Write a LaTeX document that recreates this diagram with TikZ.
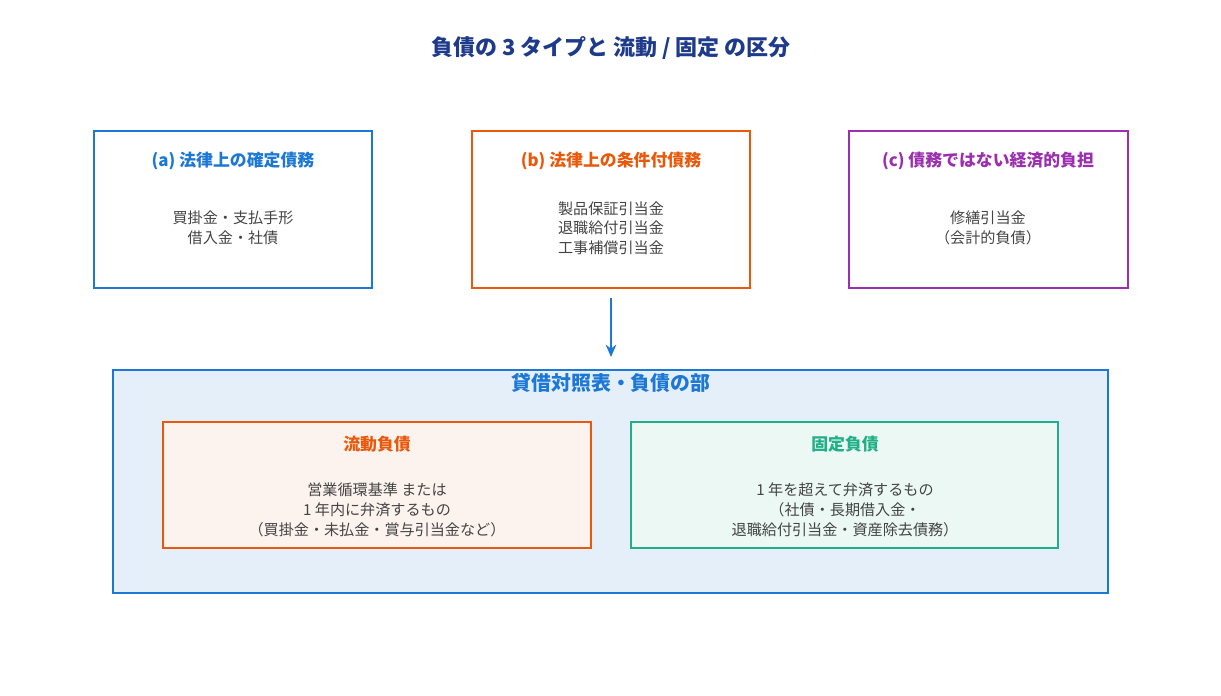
\documentclass[tikz,border=0pt]{standalone}
\usepackage{fontspec}
\setmainfont{Noto Sans CJK JP}
\usetikzlibrary{arrows.meta}
\definecolor{cblue}{HTML}{1C78D4}
\definecolor{corange}{HTML}{E8590C}
\definecolor{cpurple}{HTML}{9C2FB0}
\definecolor{cgreen}{HTML}{20B088}
\definecolor{ctitle}{HTML}{1E3A8A}
\definecolor{ctext}{HTML}{444444}
\begin{document}
\begin{tikzpicture}[x=0.02cm,y=-0.02cm,
 box/.style={draw,line width=1.6pt},
 inbox/.style={draw,line width=1.3pt},
 head/.style={font=\fontsize{9.6}{11}\selectfont\bfseries},
 body/.style={font=\fontsize{8.6}{11.2}\selectfont,text=ctext,align=center}]
\useasboundingbox (0,0) rectangle (1221,696);
\node[font=\fontsize{12.5}{14}\selectfont\bfseries,text=ctitle] (title) at (611,48) {負債の 3 タイプと 流動 / 固定 の区分};
\draw[box,cblue] (94,131) rectangle (372,288);
\draw[box,corange] (472,131) rectangle (750,288);
\draw[box,cpurple] (849,131) rectangle (1128,288);
\node[head,text=cblue] (ha) at (233,161) {(a) 法律上の確定債務};
\node[head,text=corange] (hb) at (611,161) {(b) 法律上の条件付債務};
\node[head,text=cpurple] (hc) at (988,161) {(c) 債務ではない経済的負担};
\node[body] (ba) at (233,228) {買掛金・支払手形\\借入金・社債};
\node[body] (bb) at (611,228) {製品保証引当金\\退職給付引当金\\工事補償引当金};
\node[body] (bc) at (988,228) {修繕引当金\\（会計的負債）};
\coordinate (as) at (611,298);
\coordinate (ae) at (611,357);
\draw[cblue,line width=1.6pt,-{Stealth[length=7pt,width=6pt]}] (as) -- (ae);
\draw[box,cblue,fill=cblue!12] (113,370) rectangle (1108,593);
\node[font=\fontsize{11.3}{13}\selectfont\bfseries,text=cblue] (bt) at (611,383) {貸借対照表・負債の部};
\draw[inbox,corange,fill=corange!7] (163,422) rectangle (591,548);
\draw[inbox,cgreen,fill=cgreen!9] (631,422) rectangle (1058,548);
\node[head,text=corange] (hl) at (377,444) {流動負債};
\node[head,text=cgreen] (hr) at (845,444) {固定負債};
\node[body] (bl) at (377,510) {営業循環基準 または\\1 年内に弁済するもの\\（買掛金・未払金・賞与引当金など）};
\node[body] (br) at (845,510) {1 年を超えて弁済するもの\\（社債・長期借入金・\\退職給付引当金・資産除去債務）};
\end{tikzpicture}
\end{document}
